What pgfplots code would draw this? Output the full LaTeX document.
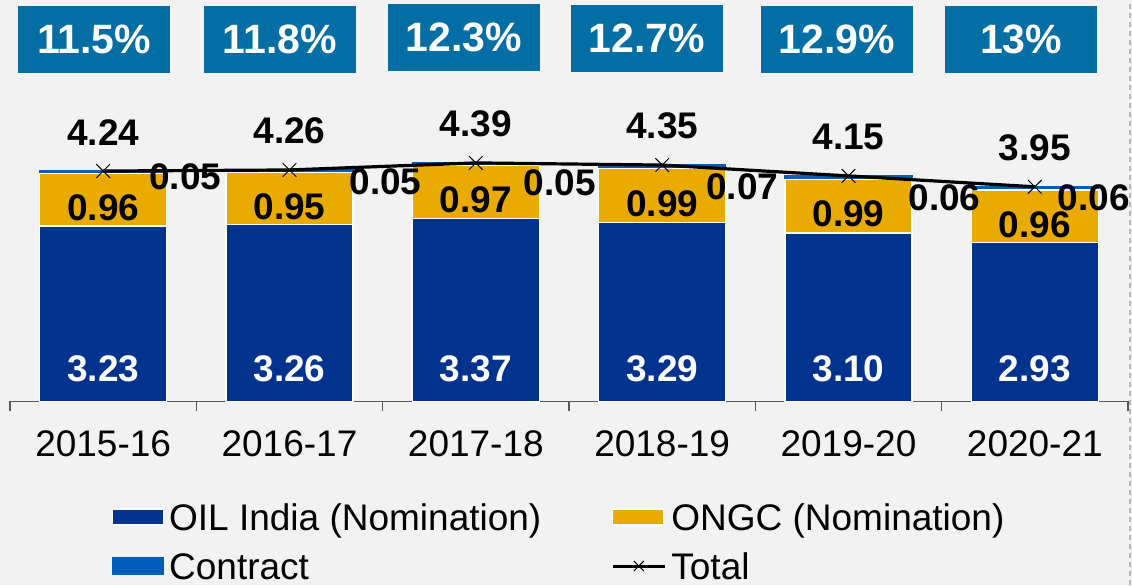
\documentclass[border=0pt]{standalone}
\usepackage{fontspec}
\setmainfont{Liberation Sans}
\usepackage{pgfplots}
\usepackage{pgfplotstable}
\pgfplotsset{compat=1.18}

\definecolor{oilblue}{HTML}{00338D}
\definecolor{ongcgold}{HTML}{EAAB00}
\definecolor{contractblue}{HTML}{005EB8}
\definecolor{bggray}{HTML}{F2F2F2}
\definecolor{boxblue}{HTML}{036EA3}
\definecolor{axisgray}{HTML}{595959}

% production by year (x = category index)
\pgfplotstableread{
x oil ongc contract total
0 3.23 0.96 0.05 4.24
1 3.26 0.95 0.05 4.26
2 3.37 0.97 0.05 4.39
3 3.29 0.99 0.07 4.35
4 3.10 0.99 0.06 4.15
5 2.93 0.96 0.06 3.95
}\prod

\pgfplotsset{
  barleg/.style={legend image code/.code={\draw[##1] (0pt,-4pt) rectangle (25.5pt,4pt);}},
  totleg/.style={legend image code/.code={\draw[sharp plot,mark repeat=2,mark phase=2,##1] plot coordinates {(0pt,0pt) (13pt,0pt) (26pt,0pt)};}},
  common/.style={
    at={(5pt,91.85pt)}, anchor=south west,
    width=559pt, height=200.65pt, scale only axis,
    xmin=-0.5, xmax=5.5, ymin=0, ymax=7.39,
    clip=false,
  },
}

\newcommand{\lab}{\bfseries\fontsize{18.5}{20}\selectfont}

\begin{document}
\begin{tikzpicture}
\useasboundingbox (0,0) rectangle (566pt,292.5pt);
\fill[bggray] (0,0) rectangle (566pt,292.5pt);
\draw[gray!55, line width=1pt, dash pattern=on 2.5pt off 2pt] (565.2pt,0) -- (565.2pt,292.5pt);

\begin{axis}[
    common,
    ybar stacked,
    bar width=63.5pt,
    axis x line*=bottom,
    axis y line=none,
    x axis line style={axisgray, line width=0.75pt},
    xtick={0,...,5},
    xticklabels={2015-16,2016-17,2017-18,2018-19,2019-20,2020-21},
    major tick length=0pt,
    minor xtick={-0.5,0.5,...,5.5},
    minor tick length=5pt,
    tick align=outside,
    every minor tick/.append style={axisgray, line width=0.75pt},
    xticklabel style={font=\fontsize{18.5}{20}\selectfont, anchor=center, yshift=-21.4pt},
    ytick=\empty,
    legend columns=2,
    legend cell align=left,
    legend style={
      at={(0.0912,-0.2375)}, anchor=north west,
      draw=none, fill=none, inner sep=0pt, outer sep=0pt,
      font=\fontsize{18.5}{20}\selectfont,
      nodes={text height=16.8pt, text depth=3.6pt, inner xsep=2.5pt, inner ysep=0pt},
      row sep=4.1pt,
      /tikz/every even column/.append style={column sep=32.5pt},
    },
]
\addplot[fill=oilblue, draw=white, line width=0.6pt, barleg] table[x=x, y=oil] {\prod};
\addlegendentry{OIL India (Nomination)}
\addplot[fill=ongcgold, draw=white, line width=0.6pt, barleg] table[x=x, y=ongc] {\prod};
\addlegendentry{ONGC (Nomination)}
\addplot[fill=contractblue, draw=contractblue, line width=0.6pt, barleg] table[x=x, y=contract] {\prod};
\addlegendentry{Contract}
\addlegendimage{totleg, black, line width=1.5pt, mark=x, mark size=3.5pt, mark options={line width=0.5pt}}
\addlegendentry{Total}
\end{axis}

\begin{axis}[
    common,
    axis lines=none,
    xtick=\empty, ytick=\empty,
    nodes near coords={\pgfmathprintnumber[fixed,fixed zerofill,precision=2,assume math mode=true]{\pgfplotspointmeta}},
    every node near coord/.append style={font=\lab, text=black, anchor=center, yshift=19.4pt},
]
\addplot[black, line width=1.6pt, mark=x, mark size=4.8pt, mark options={line width=0.5pt}] table[x=x, y=total] {\prod};

% OIL India labels
\node[font=\lab, text=white] at (axis cs:0,0.59) {3.23};
\node[font=\lab, text=white] at (axis cs:1,0.59) {3.26};
\node[font=\lab, text=white] at (axis cs:2,0.59) {3.37};
\node[font=\lab, text=white] at (axis cs:3,0.59) {3.29};
\node[font=\lab, text=white] at (axis cs:4,0.59) {3.10};
\node[font=\lab, text=white] at (axis cs:5,0.59) {2.93};
% ONGC labels
\node[font=\lab] at (axis cs:0,3.56) {0.96};
\node[font=\lab] at (axis cs:1,3.585) {0.95};
\node[font=\lab] at (axis cs:2,3.705) {0.97};
\node[font=\lab] at (axis cs:3,3.635) {0.99};
\node[font=\lab] at (axis cs:4,3.445) {0.99};
\node[font=\lab] at (axis cs:5,3.26) {0.96};
% Contract labels
\node[font=\lab] at (axis cs:0.44,4.14) {0.05};
\node[font=\lab] at (axis cs:1.515,4.04) {0.05};
\node[font=\lab] at (axis cs:2.45,4.02) {0.05};
\node[font=\lab] at (axis cs:3.43,3.95) {0.07};
\node[font=\lab] at (axis cs:4.515,3.75) {0.06};
\node[font=\lab] at (axis cs:5.317,3.75) {0.06};
% share boxes
\node[fill=boxblue, text=white, minimum width=76pt, minimum height=33.5pt, inner sep=0pt, font=\bfseries\fontsize{20.5}{22}\selectfont] at (axis cs:-0.049,6.663) {11.5\%};
\node[fill=boxblue, text=white, minimum width=76pt, minimum height=33.5pt, inner sep=0pt, font=\bfseries\fontsize{20.5}{22}\selectfont] at (axis cs:0.949,6.663) {11.8\%};
\node[fill=boxblue, text=white, minimum width=76pt, minimum height=33.5pt, inner sep=0pt, font=\bfseries\fontsize{20.5}{22}\selectfont] at (axis cs:1.937,6.700) {12.3\%};
\node[fill=boxblue, text=white, minimum width=76pt, minimum height=33.5pt, inner sep=0pt, font=\bfseries\fontsize{20.5}{22}\selectfont] at (axis cs:2.919,6.681) {12.7\%};
\node[fill=boxblue, text=white, minimum width=76pt, minimum height=33.5pt, inner sep=0pt, font=\bfseries\fontsize{20.5}{22}\selectfont] at (axis cs:3.938,6.663) {12.9\%};
\node[fill=boxblue, text=white, minimum width=76pt, minimum height=33.5pt, inner sep=0pt, font=\bfseries\fontsize{20.5}{22}\selectfont] at (axis cs:4.926,6.663) {13\%};
\end{axis}
\end{tikzpicture}
\end{document}
